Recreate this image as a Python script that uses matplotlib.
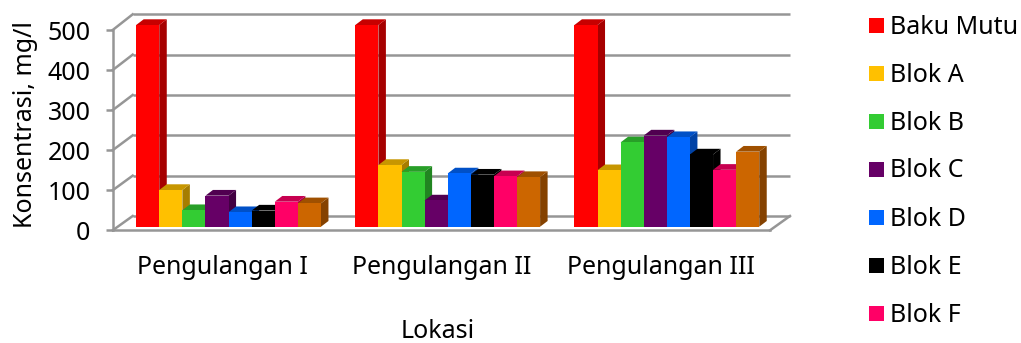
import matplotlib
matplotlib.use('Agg')
import matplotlib.pyplot as plt
from matplotlib.colors import to_rgb
from matplotlib.patches import Polygon, Rectangle

W, H = 1021, 343

groups = ['Pengulangan I', 'Pengulangan II', 'Pengulangan III']
series = ['Baku Mutu', 'Blok A', 'Blok B', 'Blok C', 'Blok D', 'Blok E', 'Blok F', 'Blok G']
colors = ['#FF0000', '#FFC000', '#33CC33', '#660066', '#0066FF', '#000000', '#FF0066', '#CC6600']
baku_mutu = [500, 500, 500]
blok_a = [91, 153, 140]
blok_b = [41, 136, 209]
blok_c = [77, 65, 226]
blok_d = [36, 132, 222]
blok_e = [40, 129, 179]
blok_f = [62, 125, 141]
blok_g = [58, 123, 186]
values = [baku_mutu, blok_a, blok_b, blok_c, blok_d, blok_e, blok_f, blok_g]
legend_names = series[:7]
yticks = [0, 100, 200, 300, 400, 500]

GRID = '#969696'
LW = 1.8
FONT = 'Noto Sans'
FS = 18


def make_axes(fig, left, right, top, bottom):
    # axes placed by pixel edges, y measured from the top of the figure
    ax = fig.add_axes([left / W, 1 - bottom / H, (right - left) / W, (bottom - top) / H])
    ax.patch.set_visible(False)
    for s in ax.spines.values():
        s.set_visible(False)
    return ax


def shade(color, factor):
    return tuple(c * factor for c in to_rgb(color))


fig = plt.figure(figsize=(W / 100, H / 100), dpi=100)

# back wall gridlines
wall = make_axes(fig, 132.7, 790, 14.3, 216)
wall.set_xlim(0, 1)
wall.set_ylim(0, 500)
wall.set_xticks([])
wall.set_yticks([])
wall.hlines(yticks, 0, 1, color=GRID, lw=LW, clip_on=False)

# front plane with the value axis and the group labels
front = make_axes(fig, 112.7, 770, 30, 230.3)
front.set_xlim(-0.5, 2.5)
front.set_ylim(0, 500)
front.spines['left'].set_visible(True)
front.spines['left'].set_color(GRID)
front.spines['left'].set_linewidth(LW)
front.spines['bottom'].set_visible(True)
front.spines['bottom'].set_color(GRID)
front.spines['bottom'].set_linewidth(LW)
front.set_yticks(yticks)
front.set_xticks(range(3))
front.set_xticklabels(groups, fontsize=FS, family=FONT)
front.set_yticklabels([str(t) for t in yticks], fontsize=FS, family=FONT)
front.tick_params(axis='y', length=5, width=LW, color=GRID, pad=11)
front.tick_params(axis='x', length=0, pad=18)

# side walls joining the front plane to the back wall
for t in yticks:
    y0 = 230.3 - t * 200.3 / 500
    y1 = 216 - t * 201.7 / 500
    fig.add_artist(plt.Line2D([112.7 / W, 132.7 / W], [1 - y0 / H, 1 - y1 / H], color=GRID, lw=LW))
fig.add_artist(plt.Line2D([770 / W, 790 / W], [1 - 230.3 / H, 1 - 216 / H], color=GRID, lw=LW))

# bars sit slightly behind the front plane
bars = make_axes(fig, 119, 776.4, 25, 226.7)
bars.set_xlim(-0.5, 2.5)
bars.set_ylim(0, 500)
bars.set_xticks([])
bars.set_yticks([])

px_x = 3 / (776.4 - 119)
px_y = 500 / (226.7 - 25)
bar_w = 23.1 * px_x
dx = 7.5 * px_x
dy = 5.7 * px_y

# painted left to right so each bar covers the side of the one before
for g in range(len(groups)):
    for i, name in enumerate(series):
        v = values[i][g]
        c = colors[i]
        x0 = g + (i - 4) * bar_w
        x1 = x0 + bar_w
        z = 3 + g * 10 + i
        side = Polygon([(x1, 0), (x1 + dx, dy), (x1 + dx, v + dy), (x1, v)],
                       fc=shade(c, 0.65), ec='none', clip_on=False, zorder=z)
        top = Polygon([(x0, v), (x0 + dx, v + dy), (x1 + dx, v + dy), (x1, v)],
                      fc=shade(c, 0.78), ec='none', clip_on=False, zorder=z)
        bars.add_patch(side)
        bars.add_patch(top)
        bars.bar(x0, v, width=bar_w, align='edge', color=c, zorder=z + 0.5, clip_on=False)

fig.text(25 / W, 1 - 125 / H, 'Konsentrasi, mg/l', rotation=90, ha='center', va='center',
         fontsize=FS, family=FONT)
fig.text(438 / W, 1 - 332 / H, 'Lokasi', ha='center', va='center', fontsize=FS, family=FONT)

# legend column, last series has no entry
for k, name in enumerate(legend_names):
    yc = 25.5 + 48 * k
    fig.add_artist(Rectangle((869 / W, 1 - (yc + 7.5) / H), 15 / W, 15 / H,
                             transform=fig.transFigure, fc=colors[k], ec='none'))
    fig.text(890 / W, 1 - (yc + 1.5) / H, name, ha='left', va='center', fontsize=FS, family=FONT)

fig.savefig('out.png', dpi=100)
